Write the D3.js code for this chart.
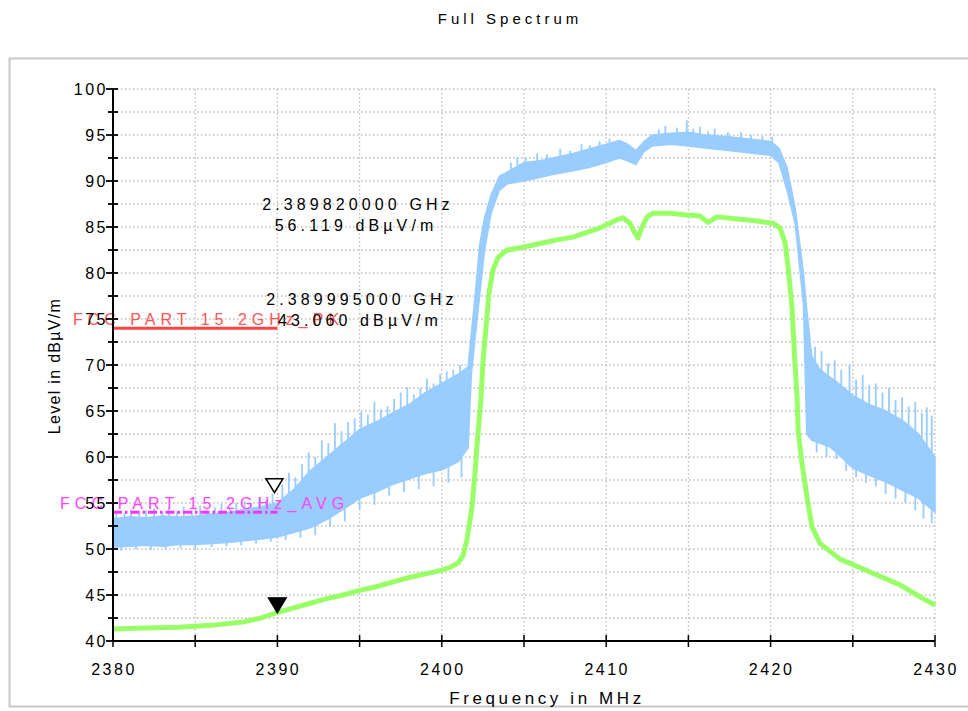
<!DOCTYPE html>
<html><head><meta charset="utf-8">
<script src="https://cdn.jsdelivr.net/npm/d3@7"></script>
<style>
html,body{margin:0;padding:0;background:#fff;}
svg text{font-family:"Liberation Sans",Arial,sans-serif;}
</style></head>
<body><svg id="c" width="968" height="711"></svg>
<script>
// ---------------- data ----------------
const title = "Full Spectrum";
const xLabel = "Frequency in MHz";
const yLabel = "Level in dBµV/m";
const xTicks = [2380, 2390, 2400, 2410, 2420, 2430];
const xMinorTicks = [2385, 2395, 2405, 2415, 2425];
const yTicks = [40, 45, 50, 55, 60, 65, 70, 75, 80, 85, 90, 95, 100];
const yMinorTicks = [42.5, 47.5, 52.5, 57.5, 62.5, 67.5, 72.5, 77.5, 82.5, 87.5, 92.5, 97.5];

// Peak trace (blue) – envelope of the noisy band
const peakFreq  = [2380,2381,2382,2383,2384,2385,2386,2387,2388,2389,2390,2391,2392,2393,2394,2395,2396,2397,2398,2399,2400,2401,2401.6,2401.8,2402.0,2402.3,2402.6,2403.0,2403.5,2404,2405,2406,2407,2408,2409,2410,2410.8,2411.3,2411.8,2412.3,2412.8,2414,2415,2416,2417,2418,2419,2420,2420.5,2421,2421.5,2422,2422.2,2422.5,2423,2423.6,2424,2425,2426,2427,2428,2429,2430];
const peakUpper = [53.3,53.5,53.4,53.6,53.5,53.6,53.8,54.0,54.3,54.6,55.0,56.5,58.5,60.0,61.5,63.0,63.8,64.8,65.7,67.0,68.0,69.0,69.8,73.5,77.0,83.0,86.0,88.5,90.5,91.0,92.0,92.2,92.6,93.0,93.5,94.0,94.4,94.0,93.3,94.3,95.0,95.2,95.3,95.0,94.9,94.7,94.5,94.3,93.6,91.5,87.0,80.0,76.0,71.0,69.5,68.7,68.2,66.7,65.7,65.0,64.0,62.5,60.0];
const peakLower = [50.2,50.3,50.4,50.3,50.5,50.5,50.6,50.7,50.9,51.1,51.3,51.8,52.3,53.2,54.3,55.5,56.2,57.0,57.6,58.2,58.6,59.5,61.0,69.0,72.5,77.5,82.5,86.5,89.0,89.7,90.0,90.4,90.8,91.1,91.5,92.0,92.5,92.2,91.8,93.2,93.8,94.0,93.8,93.6,93.4,93.2,93.0,92.8,92.0,89.0,85.3,76.5,62.5,61.8,61.5,61.1,60.5,58.8,58.0,57.3,56.4,55.5,54.0];
// peaks sticking out above the blue band
const upSpikeFreq  = [2380.2,2380.7,2381.1,2381.6,2382.0,2382.5,2383.0,2383.4,2383.9,2384.3,2384.8,2385.3,2385.7,2386.2,2386.6,2387.1,2387.5,2388.0,2388.4,2388.9,2389.3,2389.7,
  2390.3,2390.7,2391.1,2391.5,2391.9,2392.3,2392.7,2393.1,2393.5,2393.9,2394.3,2394.7,2395.1,2395.5,2395.9,2396.3,2396.7,2397.1,2397.5,2397.9,2398.3,2398.7,2399.1,2399.5,2399.9,2400.3,2400.7,2401.1,
  2404.2,2404.6,2405.1,2405.8,2406.4,2407.2,2407.8,2408.5,2409.0,2409.6,2410.2,2413.2,2413.6,2414.3,2414.9,2415.3,2415.7,2416.2,2416.6,2417.4,2418.2,2418.8,2419.5,2420.1,
  2422.7,2423.1,2423.5,2423.9,2424.3,2424.8,2425.2,2425.6,2426.0,2426.4,2426.8,2427.2,2427.6,2428.0,2428.4,2428.8,2429.2,2429.5,2429.8];
const upSpikeLevel = [54.0,53.9,54.3,54.0,54.2,54.4,54.0,54.5,54.1,54.6,54.2,54.7,54.3,54.5,54.9,54.6,55.0,55.2,55.0,55.6,55.3,56.0,
  57.0,58.3,57.8,59.2,60.5,60.0,61.8,61.5,63.7,62.8,63.8,64.2,64.9,64.6,66.0,65.2,65.5,66.3,67.0,67.6,66.8,67.5,68.5,68.0,69.0,69.3,69.5,70.0,
  92.0,92.6,92.5,93.0,92.9,93.5,93.3,94.0,93.9,94.3,94.6,95.6,96.0,95.8,96.6,95.7,95.9,95.4,95.7,95.3,95.3,95.0,94.9,94.8,
  72.0,71.5,70.2,70.5,69.5,70.0,68.4,68.9,67.8,68.0,67.0,67.5,66.2,66.5,65.5,66.0,64.8,65.4,64.5];
// dips reaching below the blue band
const downSpikeFreq  = [2380.5,2381.4,2382.3,2383.2,2384.1,2385.0,2386.0,2386.9,2387.8,2388.7,2389.6,2390.5,2391.4,2392.3,2393.2,2394.1,2395.0,2395.9,2396.8,2397.7,2398.6,2399.5,2400.4,2401.2,
  2422.8,2423.4,2424.0,2424.6,2425.2,2425.8,2426.4,2427.0,2427.6,2428.2,2428.8,2429.3,2429.8];
const downSpikeLevel = [49.8,50.0,49.9,50.0,50.1,50.0,50.2,50.3,50.4,50.6,50.8,51.0,51.2,51.5,52.4,53.0,54.3,54.8,55.8,56.2,56.5,56.8,57.2,57.8,
  60.5,60.0,59.8,58.5,57.8,57.2,56.8,56.0,55.5,55.0,54.2,53.3,52.8];

// Average trace (green)
const avgFreq  = [2380,2382,2384,2386,2388,2389,2390,2391,2392,2393,2394,2395,2396,2397,2398,2399,2400,2400.5,2401,2401.3,2401.53,2401.84,2402.02,2402.2,2402.38,2402.51,2402.69,2402.87,2403.11,2403.42,2403.97,2404.94,2405.97,2407.0,2407.98,2409.62,2410.66,2411.02,2411.45,2411.69,2411.93,2412.18,2412.48,2412.85,2413.88,2414.91,2415.7,2416.19,2416.74,2417.83,2418.93,2420.15,2420.57,2420.88,2421.06,2421.3,2421.48,2421.61,2421.67,2421.91,2422.21,2422.52,2423.0,2424.22,2426.05,2427.87,2429.09,2430];
const avgLevel = [41.3,41.4,41.5,41.7,42.1,42.5,43.1,43.6,44.1,44.6,45.0,45.5,45.9,46.4,46.9,47.3,47.7,48.0,48.5,49.3,51.0,54.6,58.3,62.6,66.2,70.5,74.1,77.8,80.3,81.7,82.5,82.8,83.2,83.6,83.9,84.9,85.8,86.0,85.4,84.5,83.8,85.0,86.1,86.5,86.5,86.3,86.2,85.5,86.1,85.9,85.7,85.4,84.9,83.3,80.7,76.3,70.2,66.5,62.9,59.3,55.7,52.4,50.6,48.9,47.5,46.1,44.8,43.9];

// limit lines
const limitNames  = ["FCC PART 15 2GHz_PK", "FCC PART 15 2GHz_AVG"];
const limitLevels = [74, 54];
const limitStart  = [2380, 2380];
const limitEnd    = [2390, 2390];

// markers
const markerFreqMHz = [2389.82, 2389.995];
const markerLevel   = [56.119, 43.060];
const markerFreqTxt = ["2.389820000 GHz", "2.389995000 GHz"];
const markerLvlTxt  = ["56.119 dBµV/m", "43.060 dBµV/m"];

// ---------------- drawing ----------------
const svg = d3.select("#c");
const x = d3.scaleLinear().domain([2380, 2430]).range([113, 935]);
const y = d3.scaleLinear().domain([40, 100]).range([641, 89]);
const BLUE = "#99ccff", GREEN = "#99ff66";

// frame
svg.append("rect").attr("x", 9.5).attr("y", 58.5).attr("width", 980).attr("height", 648)
  .attr("fill", "none").attr("stroke", "#c8c8c8").attr("stroke-width", 2);

// title
svg.append("text").attr("x", 510).attr("y", 24).attr("text-anchor", "middle")
  .attr("font-size", 15).attr("letter-spacing", 4).attr("fill", "#000").text(title);

// grid
const grid = svg.append("g").attr("stroke", "#bdbdbd").attr("stroke-width", 1.3).attr("stroke-dasharray", "1.5,2.5");
xMinorTicks.concat(xTicks.slice(1)).forEach(v => {
  grid.append("line").attr("x1", x(v)).attr("x2", x(v)).attr("y1", y(100)).attr("y2", y(40));
});
yMinorTicks.concat(yTicks.slice(1)).forEach(v => {
  grid.append("line").attr("x1", x(2380)).attr("x2", x(2430)).attr("y1", y(v)).attr("y2", y(v));
});

// peak band
const peakData = peakFreq.map((f, i) => ({f, hi: peakUpper[i], lo: peakLower[i]}));
svg.append("path").datum(peakData)
  .attr("d", d3.area().x(d => x(d.f)).y0(d => y(d.lo)).y1(d => y(d.hi)))
  .attr("fill", BLUE).attr("stroke", BLUE).attr("stroke-width", 1.5);
const interp = (arr, f) => {
  const i = Math.min(peakFreq.length - 1, Math.max(1, d3.bisectLeft(peakFreq, f)));
  const t = (f - peakFreq[i-1]) / (peakFreq[i] - peakFreq[i-1]);
  return arr[i-1] + t * (arr[i] - arr[i-1]);
};
svg.append("g").selectAll("line").data(upSpikeFreq).join("line")
  .attr("x1", f => x(f)).attr("x2", f => x(f))
  .attr("y1", (f, i) => y(upSpikeLevel[i])).attr("y2", f => y(interp(peakUpper, f)) + 2)
  .attr("stroke", BLUE).attr("stroke-width", 1.8);
svg.append("g").selectAll("line").data(downSpikeFreq).join("line")
  .attr("x1", f => x(f)).attr("x2", f => x(f))
  .attr("y1", (f, i) => y(downSpikeLevel[i])).attr("y2", f => y(interp(peakLower, f)) - 2)
  .attr("stroke", BLUE).attr("stroke-width", 1.8);

// average trace
svg.append("path").datum(avgFreq.map((f, i) => [f, avgLevel[i]]))
  .attr("d", d3.line().x(d => x(d[0])).y(d => y(d[1])))
  .attr("fill", "none").attr("stroke", GREEN).attr("stroke-width", 5).attr("stroke-linejoin", "round");

// limit lines
const limColors = ["#ff4444", "#ff33ff"];
const limDash = [null, "9,3,2.5,3"];
limitLevels.forEach((lv, i) => {
  svg.append("line").attr("x1", x(limitStart[i])).attr("x2", x(limitEnd[i]))
    .attr("y1", y(lv)).attr("y2", y(lv))
    .attr("stroke", limColors[i]).attr("stroke-width", 3).attr("stroke-dasharray", limDash[i]);
});
svg.append("text").attr("x", 73).attr("y", y(limitLevels[0]) - 3).attr("font-size", 16)
  .attr("letter-spacing", 5).attr("fill", "#ff5555").text(limitNames[0]);
svg.append("text").attr("x", 60).attr("y", y(limitLevels[1]) - 3).attr("font-size", 16)
  .attr("letter-spacing", 5.1).attr("fill", "#ff44ff").text(limitNames[1]);

// marker texts
const mtPos = [[358, 210], [362, 305]];
markerFreqTxt.forEach((t, i) => {
  const g = svg.append("g").attr("font-size", 16).attr("letter-spacing", 4.1).attr("text-anchor", "middle").attr("fill", "#000");
  g.append("text").attr("x", mtPos[i][0]).attr("y", mtPos[i][1]).text(t);
  g.append("text").attr("x", mtPos[i][0] - 2).attr("y", mtPos[i][1] + 21).text(markerLvlTxt[i]);
});

// marker triangles
const tri = (cx, cy, w, h) => `M${cx},${cy} L${cx - w/2},${cy - h} L${cx + w/2},${cy - h} Z`;
svg.append("path").attr("d", tri(x(markerFreqMHz[0]), y(markerLevel[0]), 17, 14))
  .attr("fill", "#fff").attr("stroke", "#000").attr("stroke-width", 1.5);
svg.append("path").attr("d", tri(x(markerFreqMHz[1]), y(markerLevel[1]), 18, 15))
  .attr("fill", "#000").attr("stroke", "#000").attr("stroke-width", 1.2);

// axes
const ax = svg.append("g").attr("stroke", "#000");
ax.append("line").attr("x1", x(2380)).attr("x2", x(2380)).attr("y1", y(100)).attr("y2", y(40)).attr("stroke-width", 2);
ax.append("line").attr("x1", x(2380)).attr("x2", x(2430)).attr("y1", y(40)).attr("y2", y(40)).attr("stroke-width", 2);
yTicks.forEach(v => ax.append("line").attr("x1", x(2380) - 7).attr("x2", x(2380) + 5).attr("y1", y(v)).attr("y2", y(v)).attr("stroke-width", 1.8));
yMinorTicks.forEach(v => ax.append("line").attr("x1", x(2380) - 5).attr("x2", x(2380) + 5).attr("y1", y(v)).attr("y2", y(v)).attr("stroke-width", 1.8));
xTicks.concat(xMinorTicks).forEach(v => ax.append("line").attr("x1", x(v)).attr("x2", x(v)).attr("y1", y(40) - 6).attr("y2", y(40) + 6).attr("stroke-width", 1.5));

const tl = svg.append("g").attr("font-size", 16).attr("letter-spacing", 2.5).attr("fill", "#000");
yTicks.forEach(v => tl.append("text").attr("x", x(2380) - 5).attr("y", y(v) + 6).attr("text-anchor", "end").text(v));
xTicks.forEach(v => tl.append("text").attr("x", x(v) + 1).attr("y", y(40) + 34).attr("text-anchor", "middle").text(v));

svg.append("text").attr("x", 547).attr("y", 704).attr("text-anchor", "middle")
  .attr("font-size", 17).attr("letter-spacing", 3.6).text(xLabel);
svg.append("text").attr("transform", `translate(60,366) rotate(-90)`).attr("text-anchor", "middle")
  .attr("font-size", 16).attr("letter-spacing", 1.3).text(yLabel);
</script></body></html>
